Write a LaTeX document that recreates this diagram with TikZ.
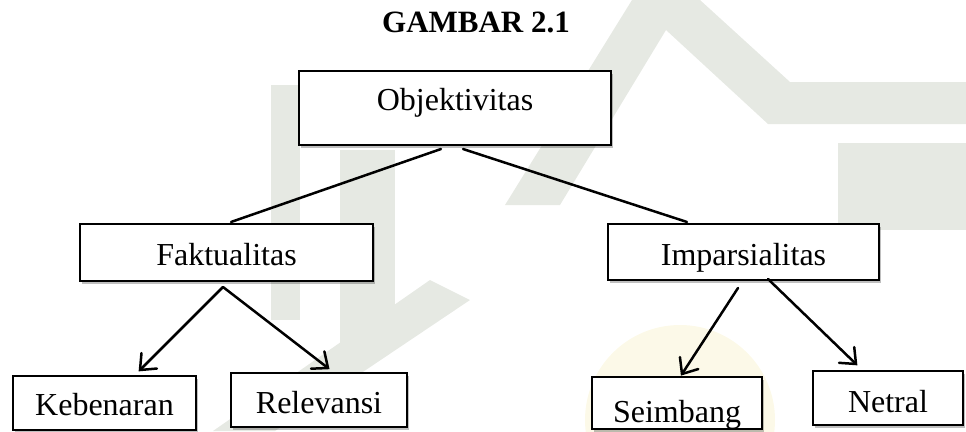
\documentclass[tikz,border=0pt]{standalone}
\usepackage{fontspec}
\setmainfont{Liberation Serif}
\usetikzlibrary{calc,shadows}
\definecolor{wm}{RGB}{230,233,227}
\definecolor{wmy}{RGB}{252,249,232}
\tikzset{
  box/.style={draw=black, line width=2.2pt, fill=white, inner sep=0pt,
    font=\fontsize{32}{36}\selectfont,
    drop shadow={shadow xshift=2pt, shadow yshift=-3pt, fill=black, opacity=0.25}},
  link/.style={line width=2.5pt, line cap=round},
  barb/.style={line width=2.5pt, line cap=round, line join=miter},
  ttl/.style={font=\fontsize{31}{36}\selectfont\bfseries, inner sep=0pt, anchor=base},
  wmark/.style={fill=wm, draw=none}
}
\begin{document}
\begin{tikzpicture}[x=1pt,y=-1pt]
\useasboundingbox (0,0) rectangle (966,431);
% faint watermark
\fill[wmy] (680,420) circle (95pt);
\fill[wmark] (271,85) rectangle (300,320);
\fill[wmark] (340,150) rectangle (395,345);
\fill[wmark] (505,205) -- (632,0) -- (700,0) -- (790,82) -- (966,82) -- (966,124) -- (768,124) -- (666,30) -- (560,205) -- cycle;
\fill[wmark] (838,143) rectangle (966,230);
\fill[wmark] (213,431) -- (275,431) -- (470,300) -- (430,280) -- cycle;
% title
\node[ttl] (title) at (476,32) {GAMBAR 2.1};
% boxes
\node[box, minimum width=312pt, minimum height=74pt, text height=22pt, text depth=18pt] (obj) at (455,108) {Objektivitas};
\node[box, minimum width=293pt, minimum height=57pt, text height=25pt, text depth=0pt] (fak) at (226.5,252.5) {Faktualitas};
\node[box, minimum width=271pt, minimum height=56pt, text height=26pt, text depth=0pt] (imp) at (743.5,252) {Imparsialitas};
\node[box, minimum width=183pt, minimum height=54pt, text height=24pt, text depth=0pt] (keb) at (104.5,403) {Kebenaran};
\node[box, minimum width=176pt, minimum height=54pt, text height=26pt, text depth=0pt] (rel) at (319,400) {Relevansi};
\node[box, minimum width=170pt, minimum height=52pt] (sei) at (677,403) {};
\begin{scope}
\clip (592,378) rectangle (762,427);
\node[font=\fontsize{32}{36}\selectfont, inner sep=0pt, anchor=base] (seit) at (677,422) {Seimbang};
\end{scope}
\node[box, minimum width=150pt, minimum height=54pt, text height=28pt, text depth=0pt] (net) at (888,398) {Netral};
% connector end points
\coordinate (o1) at (441,149);
\coordinate (o2) at (463,149);
\coordinate (f0) at (231,222);
\coordinate (i0) at (687,222);
\coordinate (fa) at (223,287);
\coordinate (ia) at (738,288);
\coordinate (ib) at (768,279);
\coordinate (kt) at (140,370);
\coordinate (rt) at (328,368);
\coordinate (st) at (682,374);
\coordinate (nt) at (856,364);
\draw[link] (o1) -- (f0);
\draw[link] (o2) -- (i0);
\foreach \s/\t in {fa/kt, fa/rt, ia/st, ib/nt}{
  \draw[link] (\s) -- (\t);
  \draw[barb] ($(\t)!17pt!40:(\s)$) -- (\t) -- ($(\t)!17pt!-40:(\s)$);
}
\end{tikzpicture}
\end{document}
